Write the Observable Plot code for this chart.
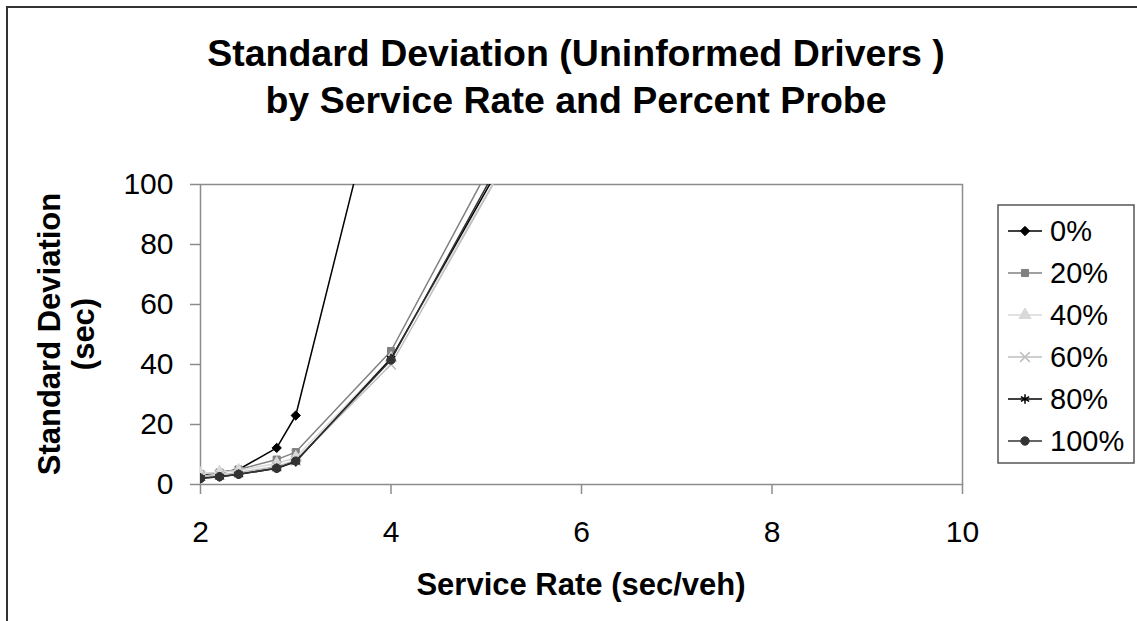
<!DOCTYPE html>
<html><head><meta charset="utf-8">
<script src="https://cdn.jsdelivr.net/npm/d3@7"></script>
<script src="https://cdn.jsdelivr.net/npm/@observablehq/plot@0.6"></script>
<style>
body{margin:0;background:#fff;overflow:hidden;}
#wrap{position:relative;width:1137px;height:621px;overflow:hidden;background:#fff;}
#border{position:absolute;left:6px;top:6px;width:1300px;height:800px;border-top:2px solid #333;border-left:2px solid #333;}
#chart{position:absolute;left:0;top:0;}
</style>
</head><body>
<div id="wrap"><div id="border"></div><div id="chart"></div></div>
<script>
// ---- data ----
const serviceRates = [2, 2.2, 2.4, 2.8, 3, 4, 6];
const seriesNames = ["0%", "20%", "40%", "60%", "80%", "100%"];
const probe0   = [3.2, 4.0, 5.0, 12.2, 23.0, 150, 420];
const probe20  = [3.5, 4.0, 5.0, 8.3, 10.8, 44.5, 163];
const probe40  = [3.6, 4.1, 4.7, 7.0, 9.0, 42, 151];
const probe60  = [2.8, 3.2, 4.0, 6.0, 8.0, 40, 152];
const probe80  = [2.2, 2.6, 3.4, 5.4, 7.6, 42, 154];
const probe100 = [2.0, 2.6, 3.4, 5.4, 7.8, 41.5, 157];
const xTicks = [2, 4, 6, 8, 10];
const yTicks = [0, 20, 40, 60, 80, 100];

const seriesValues = [probe0, probe20, probe40, probe60, probe80, probe100];
const lineColors = ["#000000", "#808080", "#d9d9d9", "#bfbfbf", "#000000", "#333333"];
const symbols = ["diamond2", "square", "triangle", "times", "asterisk", "circle"];
const symbolR = [4.2, 4, 4.5, 4.5, 4.5, 4.2];
const strokeOnly = [false, false, false, true, true, false];

const rows = [];
seriesNames.forEach((name, i) => serviceRates.forEach((x, j) => rows.push({series: name, x, y: seriesValues[i][j]})));

const marks = [
  Plot.frame({stroke: "#8c8c8c", strokeWidth: 1.5}),
  Plot.axisX({ticks: xTicks, tickSize: 10, tickPadding: 26, stroke: "#8c8c8c", strokeWidth: 1.5, fill: "#000", label: null, tickFormat: d => String(d)}),
  Plot.axisY({ticks: yTicks, tickSize: 10, tickPadding: 17, stroke: "#8c8c8c", strokeWidth: 1.5, fill: "#000", label: null, tickFormat: d => String(d)})
];
seriesNames.forEach((name, i) => {
  const data = rows.filter(d => d.series === name);
  marks.push(Plot.line(data, {x: "x", y: "y", stroke: lineColors[i], strokeWidth: 1.5, clip: true}));
  marks.push(Plot.dot(data, {
    x: "x", y: "y", symbol: symbols[i], r: symbolR[i], clip: true,
    fill: strokeOnly[i] ? "none" : lineColors[i],
    stroke: lineColors[i], strokeWidth: strokeOnly[i] ? 1.5 : 1
  }));
});

const svg = Plot.plot({
  width: 1137, height: 621,
  marginLeft: 200, marginRight: 175, marginTop: 184, marginBottom: 137,
  style: {fontFamily: "'Liberation Sans', Arial, sans-serif", fontSize: "30px", color: "#000", background: "transparent", overflow: "visible"},
  x: {domain: [2, 10]},
  y: {domain: [0, 100]},
  marks
});
document.getElementById("chart").appendChild(svg);

// ---- titles & legend (layout text) ----
const s = d3.select(svg);
const font = "'Liberation Sans', Arial, sans-serif";
const titleLines = ["Standard Deviation (Uninformed Drivers )", "by Service Rate and Percent Probe"];
s.append("text").attr("x", 576).attr("y", 66).attr("text-anchor", "middle")
  .attr("font-family", font).attr("font-weight", "bold").attr("font-size", 37.5).attr("fill", "#000").text(titleLines[0]);
s.append("text").attr("x", 576).attr("y", 113).attr("text-anchor", "middle")
  .attr("font-family", font).attr("font-weight", "bold").attr("font-size", 37.5).attr("fill", "#000").text(titleLines[1]);

s.append("text").attr("x", 581).attr("y", 595).attr("text-anchor", "middle")
  .attr("font-family", font).attr("font-weight", "bold").attr("font-size", 31).attr("fill", "#000").text("Service Rate (sec/veh)");
s.append("text").attr("transform", "translate(60,334) rotate(-90)").attr("text-anchor", "middle")
  .attr("font-family", font).attr("font-weight", "bold").attr("font-size", 31).attr("fill", "#000").text("Standard Deviation");
s.append("text").attr("transform", "translate(94,334) rotate(-90)").attr("text-anchor", "middle")
  .attr("font-family", font).attr("font-weight", "bold").attr("font-size", 31).attr("fill", "#000").text("(sec)");

const lg = s.append("g");
lg.append("rect").attr("x", 998).attr("y", 205).attr("width", 136).attr("height", 258)
  .attr("fill", "#fff").attr("stroke", "#555").attr("stroke-width", 1.5);
const d3sym = {diamond2: d3.symbolDiamond2, square: d3.symbolSquare, triangle: d3.symbolTriangle, times: d3.symbolTimes, asterisk: d3.symbolAsterisk, circle: d3.symbolCircle};
seriesNames.forEach((name, i) => {
  const y = 231 + i * 42;
  lg.append("line").attr("x1", 1008).attr("x2", 1042).attr("y1", y).attr("y2", y)
    .attr("stroke", lineColors[i]).attr("stroke-width", 1.5);
  lg.append("path").attr("transform", `translate(1025,${y})`)
    .attr("d", d3.symbol(d3sym[symbols[i]], Math.PI * symbolR[i] * symbolR[i])())
    .attr("fill", strokeOnly[i] ? "none" : lineColors[i]).attr("stroke", lineColors[i]).attr("stroke-width", strokeOnly[i] ? 1.5 : 1);
  lg.append("text").attr("x", 1050).attr("y", y).attr("dy", "0.36em").attr("text-anchor", "start")
    .attr("font-family", font).attr("font-size", 29).attr("fill", "#000").text(name);
});
</script>
</body></html>
